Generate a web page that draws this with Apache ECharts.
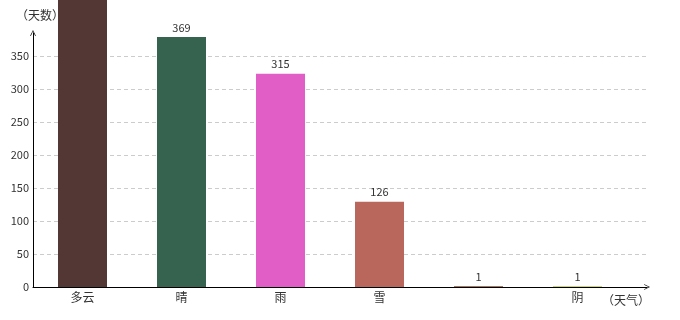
<!DOCTYPE html>
<html><head><meta charset="utf-8">
<script src="https://cdn.jsdelivr.net/npm/echarts@6/dist/echarts.min.js"></script>
<style>html,body{margin:0;padding:0;background:#fff}#c{width:680px;height:320px}</style>
</head><body><div id="c"></div>
<script>
var categories = ['多云', '晴', '雨', '雪', '', '阴'];
var days = [520, 369, 315, 126, 1, 1];
var barColors = ['#523735', '#366350', '#e05ec6', '#b9675c', '#8a4a24', '#bcc83e'];
var yTicks = [0, 50, 100, 150, 200, 250, 300, 350];

var chart = echarts.init(document.getElementById('c'), null, {renderer: 'canvas'});
var font = '"Noto Sans CJK SC", "DejaVu Sans", sans-serif';
var chevron = 'path://M0,10 L5,0 L10,10 L8.8,10.6 L5,2.4 L1.2,10.6 Z';
chart.setOption({
  animation: false,
  grid: [
    {left: 33, right: 53, top: 33, bottom: 33, containLabel: false},
    {left: 33, right: 33, top: 33, bottom: 33, containLabel: false}
  ],
  xAxis: [{
    type: 'category',
    gridIndex: 0,
    data: categories,
    axisLine: {show: false},
    axisTick: {show: false},
    axisLabel: {color: '#333', fontSize: 12, fontFamily: font, margin: 4}
  }, {
    type: 'value',
    gridIndex: 1,
    min: 0, max: 1,
    name: '（天气）',
    nameLocation: 'end',
    nameGap: 3,
    nameTextStyle: {color: '#333', fontSize: 12, fontFamily: font, align: 'right', verticalAlign: 'top', padding: [7, 0, 0, 0]},
    axisLine: {show: true, onZero: false, lineStyle: {color: '#000', width: 1}, symbol: ['none', chevron], symbolSize: [7, 6]},
    axisTick: {show: false},
    axisLabel: {show: false},
    splitLine: {show: false}
  }],
  yAxis: [{
    type: 'value',
    gridIndex: 0,
    min: 0, max: 375,
    show: false
  }, {
    type: 'value',
    gridIndex: 1,
    min: 0, max: 385, interval: 50,
    name: '（天数）',
    nameLocation: 'end',
    nameGap: 12,
    nameTextStyle: {color: '#333', fontSize: 12, fontFamily: font, align: 'center', padding: [0, 0, 0, 14]},
    axisLine: {show: true, onZero: false, lineStyle: {color: '#000', width: 1}, symbol: ['none', chevron], symbolSize: [7, 6]},
    axisTick: {show: false},
    axisLabel: {color: '#333', fontSize: 11, fontFamily: font, margin: 4, showMaxLabel: false,
      formatter: function (v) { return yTicks.indexOf(v) >= 0 ? String(v) : ''; }},
    splitLine: {show: true, showMaxLine: false, showMinLine: false, lineStyle: {color: '#ccc', type: [4, 3]}}
  }],
  series: [{
    type: 'bar',
    xAxisIndex: 0,
    yAxisIndex: 0,
    data: days.map(function (v, i) { return {value: v, itemStyle: {color: barColors[i]}}; }),
    barWidth: 49,
    clip: false,
    z: 3,
    label: {show: true, position: 'top', color: '#333', fontSize: 11, fontFamily: font, distance: 4}
  }]
});
</script></body></html>
